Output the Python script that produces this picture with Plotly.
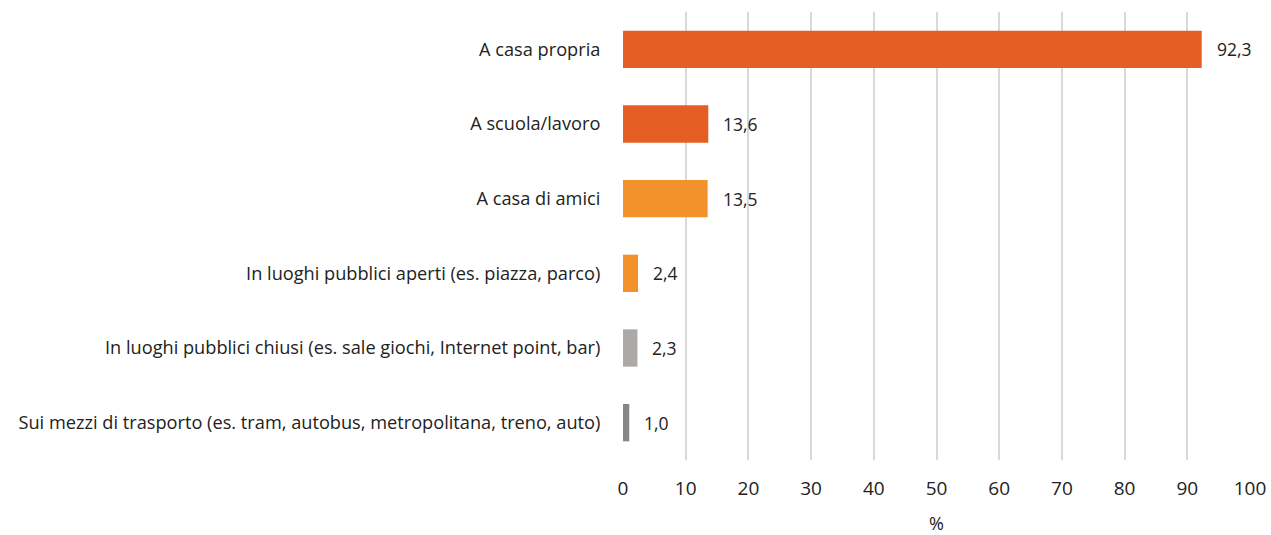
import plotly.graph_objects as go

categories = [
    "A casa propria",
    "A scuola/lavoro",
    "A casa di amici",
    "In luoghi pubblici aperti (es. piazza, parco)",
    "In luoghi pubblici chiusi (es. sale giochi, Internet point, bar)",
    "Sui mezzi di trasporto (es. tram, autobus, metropolitana, treno, auto)",
]
values = [92.3, 13.6, 13.5, 2.4, 2.3, 1.0]
colors = ["#E55F25", "#E55F25", "#F3922A", "#F3922A", "#ADA9A9", "#868686"]
tick_vals = list(range(0, 101, 10))

FONT = "Open Sans, sans-serif"

fig = go.Figure(go.Bar(
    y=categories, x=values, orientation="h",
    marker=dict(color=colors, line=dict(width=0)),
    width=0.5,
    hoverinfo="skip",
))

for c, v in zip(categories, values):
    fig.add_annotation(x=v, y=c, text=f"{v:.1f}".replace(".", ","),
                       showarrow=False, xanchor="left", xshift=13,
                       font=dict(size=17.5, color="#222222", family=FONT))

fig.update_layout(
    width=1271, height=535,
    margin=dict(l=623, r=21, t=12, b=75, autoexpand=False),
    plot_bgcolor="white", paper_bgcolor="white",
    font=dict(family=FONT, color="#222222"),
    showlegend=False,
    bargap=0.5,
)
fig.update_xaxes(
    range=[0, 100], tickvals=tick_vals, showgrid=True, gridcolor="#D9D9D9",
    gridwidth=2, zeroline=False, showline=False, automargin=False,
    tickfont=dict(size=19, color="#222222", family=FONT),
    ticks="outside", ticklen=11, tickcolor="white",
    title=dict(text="%", font=dict(size=18, color="#222222", family=FONT), standoff=23),
)
fig.update_yaxes(
    categoryorder="array", categoryarray=categories[::-1], automargin=False,
    tickfont=dict(size=18.2, color="#222222", family=FONT),
    ticks="outside", ticklen=18, tickcolor="white",
    showgrid=False, showline=False,
)

fig.write_html(
    "out.html",
    config={"displayModeBar": False},
    post_script="document.body.style.margin='0';document.body.style.overflow='hidden';",
)
